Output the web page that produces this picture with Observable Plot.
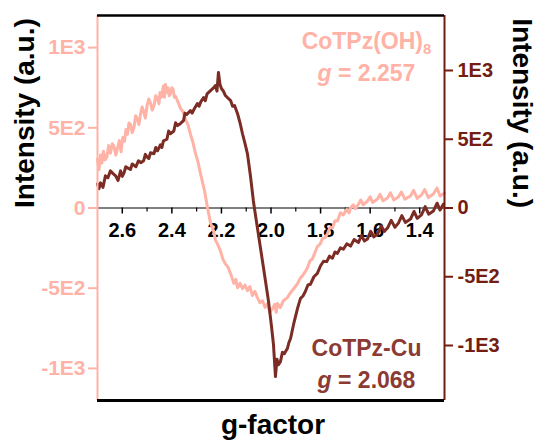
<!DOCTYPE html>
<html><head><meta charset="utf-8">
<script src="https://cdn.jsdelivr.net/npm/d3@7"></script>
<script src="https://cdn.jsdelivr.net/npm/@observablehq/plot@0.6"></script>
<style>body{margin:0;background:#fff;} svg{display:block}</style>
</head><body><div id="chart"></div>
<script>
// CoTPz(OH)8 — [g-factor, intensity] on the left axis
const pinkSeries = [
  [2.700,304],[2.694,240],[2.688,330],[2.682,280],[2.676,354],[2.669,300],[2.662,320],[2.655,390],[2.648,342],[2.640,400],
  [2.633,380],[2.626,330],[2.619,373],[2.612,420],[2.605,350],[2.598,440],[2.591,416],[2.585,490],[2.579,460],[2.573,530],
  [2.567,522],[2.560,470],[2.553,500],[2.546,575],[2.539,553],[2.533,520],[2.527,580],[2.520,630],[2.514,602],[2.507,560],
  [2.500,640],[2.493,680],[2.486,652],[2.479,610],[2.472,640],[2.465,700],[2.458,683],[2.452,650],[2.448,720],[2.443,690],
  [2.438,727],[2.434,760],[2.430,690],[2.426,770],[2.421,720],[2.416,750],[2.411,700],[2.406,714],[2.400,750],[2.395,740],
  [2.390,690],[2.385,696],[2.375,660],[2.365,621],[2.355,600],[2.345,553],[2.335,520],[2.325,460],[2.315,410],[2.305,342],
  [2.295,290],[2.284,211],[2.268,106],[2.256,0],[2.244,-93],[2.232,-143],[2.224,-200],[2.216,-224],[2.204,-267],[2.194,-320],
  [2.184,-348],[2.173,-370],[2.163,-410],[2.150,-470],[2.142,-445],[2.135,-497],[2.125,-470],[2.115,-503],[2.105,-480],
  [2.095,-515],[2.085,-490],[2.075,-546],[2.065,-520],[2.055,-559],[2.045,-590],[2.034,-578],[2.024,-620],[2.014,-596],
  [2.005,-650],[2.000,-640],[1.994,-627],[1.985,-600],[1.979,-650],[1.974,-596],[1.962,-620],[1.950,-578],[1.935,-560],
  [1.921,-528],[1.907,-500],[1.893,-472],[1.883,-440],[1.873,-422],[1.863,-400],[1.853,-373],[1.843,-330],[1.833,-317],
  [1.823,-280],[1.813,-240],[1.802,-225],[1.792,-190],[1.782,-185],[1.772,-161],[1.762,-120],[1.752,-124],[1.742,-80],
  [1.732,-81],[1.720,-30],[1.708,-43],[1.695,-10],[1.685,-30],[1.679,0],[1.668,20],[1.660,-5],[1.647,25],[1.638,50],
  [1.628,20],[1.611,43],[1.600,70],[1.590,35],[1.570,56],[1.560,85],[1.548,45],[1.530,62],[1.518,95],[1.505,50],
  [1.486,68],[1.474,100],[1.460,55],[1.437,75],[1.425,110],[1.410,60],[1.393,81],[1.380,115],[1.365,65],[1.345,87],
  [1.330,125],[1.318,75],[1.300,93]
];
// CoTPz-Cu — [g-factor, intensity] on the right axis
const cuSeries = [
  [2.700,175],[2.694,140],[2.688,183],[2.678,150],[2.668,234],[2.658,220],[2.648,270],[2.637,250],[2.627,234],[2.617,200],
  [2.607,270],[2.600,230],[2.593,255],[2.586,300],[2.579,292],[2.567,280],[2.560,320],[2.555,314],[2.545,300],[2.535,343],
  [2.524,330],[2.514,343],[2.507,390],[2.500,370],[2.493,360],[2.486,402],[2.472,395],[2.465,440],[2.458,416],[2.446,460],
  [2.440,440],[2.434,489],[2.420,500],[2.413,560],[2.406,540],[2.392,560],[2.385,620],[2.377,599],[2.365,615],[2.353,635],
  [2.347,690],[2.340,680],[2.325,708],[2.318,690],[2.310,720],[2.297,759],[2.290,740],[2.284,770],[2.272,803],[2.265,780],
  [2.258,830],[2.244,854],[2.234,870],[2.224,891],[2.218,850],[2.212,986],[2.206,900],[2.200,869],[2.192,850],[2.184,818],
  [2.174,800],[2.163,781],[2.155,740],[2.147,745],[2.135,686],[2.125,620],[2.115,540],[2.105,470],[2.095,394],[2.083,234],
  [2.071,51],[2.067,0],[2.051,-190],[2.030,-438],[2.010,-679],[1.998,-861],[1.990,-993],[1.982,-1226],[1.976,-1100],
  [1.970,-1140],[1.962,-1117],[1.954,-1050],[1.946,-1059],[1.934,-1022],[1.928,-980],[1.921,-949],[1.909,-847],
  [1.893,-730],[1.881,-657],[1.871,-640],[1.861,-606],[1.851,-560],[1.841,-555],[1.827,-500],[1.813,-475],[1.800,-420],
  [1.788,-387],[1.775,-390],[1.764,-350],[1.752,-365],[1.742,-320],[1.732,-330],[1.720,-290],[1.708,-300],[1.694,-260],
  [1.679,-277],[1.665,-230],[1.647,-250],[1.635,-200],[1.623,-240],[1.611,-226],[1.598,-170],[1.585,-210],[1.570,-190],
  [1.555,-130],[1.543,-170],[1.530,-146],[1.515,-90],[1.500,-140],[1.486,-110],[1.472,-55],[1.458,-105],[1.437,-80],
  [1.423,-25],[1.410,-75],[1.393,-50],[1.378,10],[1.364,-45],[1.345,-22],[1.330,35],[1.318,-15],[1.304,29]
];

const seriesNames = ["CoTPz(OH)8", "CoTPz-Cu"];
const gLabels = ["g = 2.257", "g = 2.068"];

const leftTicks = [1000, 500, 0, -500, -1000];
const leftTickLabels = ["1E3", "5E2", "0", "-5E2", "-1E3"];
const rightTicks = [1000, 500, 0, -500, -1000];
const rightTickLabels = ["1E3", "5E2", "0", "-5E2", "-1E3"];
const xMajor = [2.6, 2.4, 2.2, 2.0, 1.8, 1.6, 1.4];
const xMajorLabels = ["2.6", "2.4", "2.2", "2.0", "1.8", "1.6", "1.4"];
const xMinor = [2.5, 2.3, 2.1, 1.9, 1.7, 1.5];

const xDomain = [2.7, 1.3];
const leftMax = 1200, rightMax = 1400;
const k = leftMax / rightMax;

const pink = "#ffb2a6";
const cuLine = "#7b2d25";
const cuAxis = "#731d13";
const cuText = "#8c3b33";
const font = "'Liberation Sans', Arial, sans-serif";

const W = 536, H = 442;
const mL = 97, mR = 92, mT = 15, mB = 42;
const unitsPerPx = (2 * leftMax) / (H - mT - mB);

const pinkData = pinkSeries.map(([g, v]) => ({g, v}));
const cuData = cuSeries.map(([g, v]) => ({g, v}));

const chart = Plot.plot({
  width: W, height: H,
  marginLeft: mL, marginRight: mR, marginTop: mT, marginBottom: mB,
  style: {fontFamily: font, background: "white", overflow: "visible"},
  x: {domain: xDomain, axis: null},
  y: {domain: [-leftMax, leftMax], axis: null},
  marks: [
    Plot.ruleY([0], {stroke: "black", strokeWidth: 1}),
    Plot.ruleX(xMajor, {x: d => d, y1: () => 0, y2: () => -6 * unitsPerPx, stroke: "black", strokeWidth: 1.5}),
    Plot.ruleX(xMinor, {x: d => d, y1: () => 0, y2: () => -4 * unitsPerPx, stroke: "black", strokeWidth: 1.2}),
    Plot.text(xMajor, {x: d => d, y: () => 0, text: (d, i) => xMajorLabels[i], dy: 15, lineAnchor: "top",
      fontSize: 20, fontWeight: "bold", fill: "black"}),
    Plot.line(pinkData, {x: "g", y: "v", stroke: pink, strokeWidth: 3, strokeLinejoin: "round"}),
    Plot.line(cuData, {x: "g", y: d => d.v * k, stroke: cuLine, strokeWidth: 3, strokeLinejoin: "round"}),
    Plot.axisY(leftTicks, {anchor: "left", tickSize: 9, tickPadding: 3, strokeWidth: 2,
      tickFormat: d => leftTickLabels[leftTicks.indexOf(d)], color: pink, fontSize: 21, fontWeight: "bold", label: null}),
    Plot.axisY(rightTicks.map(v => v * k), {anchor: "right", tickSize: 8, tickPadding: 5, strokeWidth: 2,
      tickFormat: d => rightTickLabels[rightTicks.indexOf(Math.round(d / k))], color: cuAxis, fontSize: 20, fontWeight: "bold", label: null}),
    Plot.ruleX([xDomain[0]], {stroke: pink, strokeWidth: 2}),
    Plot.ruleX([xDomain[1]], {stroke: cuAxis, strokeWidth: 2}),
    Plot.ruleY([leftMax], {stroke: "black", strokeWidth: 2.5}),
    Plot.ruleY([-leftMax], {stroke: "black", strokeWidth: 3}),
    Plot.text([seriesNames[0]], {frameAnchor: "top-right", text: d => d, dx: -78, dy: 33, textAnchor: "middle", lineAnchor: "bottom",
      fill: pink, fontSize: 23, fontWeight: "bold"}),
    Plot.text([gLabels[0]], {frameAnchor: "top-right", text: d => d, dx: -78, dy: 65, textAnchor: "middle", lineAnchor: "bottom",
      fill: pink, fontSize: 23, fontWeight: "bold"}),
    Plot.text([seriesNames[1]], {frameAnchor: "bottom-right", text: d => d, dx: -78, dy: -45, textAnchor: "middle", lineAnchor: "bottom",
      fill: cuText, fontSize: 23, fontWeight: "bold"}),
    Plot.text([gLabels[1]], {frameAnchor: "bottom-right", text: d => d, dx: -78, dy: -13, textAnchor: "middle", lineAnchor: "bottom",
      fill: cuText, fontSize: 23, fontWeight: "bold"}),
    Plot.text(["Intensity (a.u.)"], {frameAnchor: "left", text: d => d, rotate: -90, dx: -72, lineAnchor: "middle",
      fontSize: 28, fontWeight: "bold", fill: "black"}),
    Plot.text(["Intensity (a.u.)"], {frameAnchor: "right", text: d => d, rotate: 90, dx: 77, lineAnchor: "middle",
      fontSize: 28, fontWeight: "bold", fill: "black"}),
    Plot.text(["g-factor"], {frameAnchor: "bottom", text: d => d, dx: 2, dy: 25, lineAnchor: "middle",
      fontSize: 28, fontWeight: "bold", fill: "black"})
  ]
});

d3.select(chart).selectAll("text").each(function() {
  const t = this.textContent;
  const sel = d3.select(this);
  if (t === "CoTPz(OH)8") {
    this.textContent = "CoTPz(OH)";
    sel.append("tspan").attr("font-size", 15).attr("dy", 5).text("8");
  } else if (gLabels.includes(t)) {
    this.textContent = "";
    sel.append("tspan").attr("font-style", "italic").text("g");
    sel.append("tspan").text(t.slice(1));
  }
});

document.getElementById("chart").appendChild(chart);
</script>
</body></html>
